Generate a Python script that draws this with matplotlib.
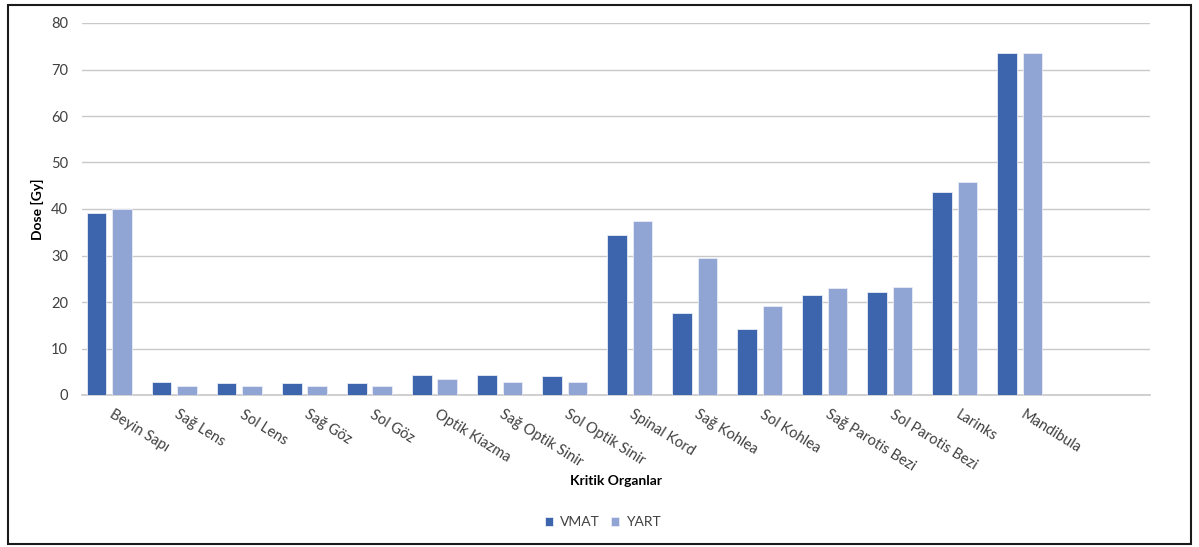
import numpy as np
import matplotlib
matplotlib.use("Agg")
import matplotlib.pyplot as plt
from matplotlib.patches import Rectangle

plt.rcParams['font.family'] = ['Lato', 'DejaVu Sans']

# data
organs = ["Beyin Sapı", "Sağ Lens", "Sol Lens", "Sağ Göz", "Sol Göz",
          "Optik Kiazma", "Sağ Optik Sinir", "Sol Optik Sinir", "Spinal Kord",
          "Sağ Kohlea", "Sol Kohlea", "Sağ Parotis Bezi", "Sol Parotis Bezi",
          "Larinks", "Mandibula"]
vmat = [39.1, 2.7, 2.6, 2.5, 2.5, 4.3, 4.3, 4.1, 34.4,
        17.6, 14.1, 21.6, 22.1, 43.7, 73.6]
yart = [40.1, 2.0, 2.0, 2.0, 2.0, 3.4, 2.9, 2.9, 37.4,
        29.4, 19.2, 23.1, 23.2, 45.7, 73.6]

VMAT_COLOR = '#3D65AE'
YART_COLOR = '#91A5D5'

fig = plt.figure(figsize=(11.99, 5.47), dpi=100)
ax = fig.add_axes([82 / 1199, 1 - 395 / 547, (1150 - 82) / 1199, (395 - 23) / 547])

x = np.arange(len(organs))
w = 0.30
off = 0.195
ax.bar(x - off, vmat, width=w, color=VMAT_COLOR, edgecolor='#E8ECF6', linewidth=0.6,
       label='VMAT', zorder=3)
ax.bar(x + off, yart, width=w, color=YART_COLOR, edgecolor='#E8ECF6', linewidth=0.6,
       label='YART', zorder=3)

ax.set_xlim(-0.42, 16.0)
ax.set_ylim(0, 80)
ax.set_yticks(range(0, 81, 10))
ax.yaxis.grid(True, color='#C8C8C8', linewidth=1.0, zorder=0)
ax.set_axisbelow(True)
for s in ['top', 'right', 'left']:
    ax.spines[s].set_visible(False)
ax.spines['bottom'].set_color('#C8C8C8')
ax.spines['bottom'].set_linewidth(1.2)
ax.tick_params(axis='y', length=0, pad=10, labelsize=10.5, labelcolor='#404040')
ax.tick_params(axis='x', length=0, pad=9)

ax.set_xticks(x + 0.08)
ax.set_xticklabels(organs, rotation=-32, ha='left', rotation_mode='anchor',
                   fontsize=10.5, color='#404040')

ax.set_ylabel('Dose [Gy]', fontsize=10, fontweight='bold')
ax.yaxis.set_label_coords(-0.0356, 0.5)
fig.text(616 / 1199, 1 - 481 / 547, 'Kritik Organlar', ha='center', va='center',
         fontsize=10, fontweight='bold')

fig.legend(loc='center', bbox_to_anchor=(603 / 1199, 1 - 522 / 547), ncol=2,
           frameon=False, fontsize=10, handlelength=0.6, handleheight=0.6,
           handletextpad=0.5, columnspacing=0.8, labelcolor='#404040')

fig.patches.append(Rectangle((8 / 1199, 1 - 544 / 547), (1191 - 8) / 1199,
                             (544 - 5) / 547, transform=fig.transFigure,
                             fill=False, edgecolor='#1a1a1a', linewidth=1.5))

fig.savefig('out.png', dpi=100)
